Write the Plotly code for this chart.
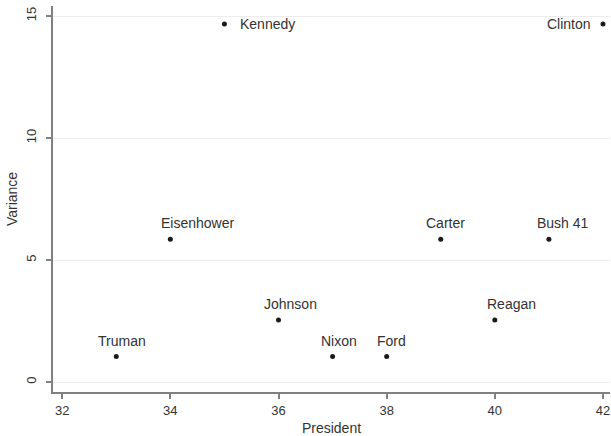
import plotly.graph_objects as go

presidents = ["Truman", "Eisenhower", "Kennedy", "Johnson", "Nixon", "Ford",
              "Carter", "Reagan", "Bush 41", "Clinton"]
president_num = [33, 34, 35, 36, 37, 38, 39, 40, 41, 42]
variance = [1.04, 5.85, 14.67, 2.54, 1.04, 1.04, 5.85, 2.54, 5.85, 14.67]

# label placement (style only): anchor and pixel shifts
label_anchor = ["center", "center", "left", "center", "center", "center",
                "center", "center", "center", "right"]
label_xshift = [6, 27, 14, 12, 6, 5, 5, 17, 14, -10]
label_yshift = [6, 6, -9, 6, 6, 6, 6, 6, 6, -9]

fig = go.Figure()
fig.add_trace(go.Scatter(
    x=president_num, y=variance, mode="markers",
    marker=dict(symbol="circle", size=5, color="#1a1a1a"),
    cliponaxis=False,
    showlegend=False, hoverinfo="skip"))

for name, xv, yv, anc, xs, ys in zip(presidents, president_num, variance,
                                      label_anchor, label_xshift, label_yshift):
    fig.add_annotation(x=xv, y=yv, text=name, showarrow=False,
                       xanchor=anc, yanchor="bottom" if anc == "center" else "middle",
                       xshift=xs, yshift=ys if anc == "center" else 0,
                       font=dict(family="Liberation Sans, Arial", size=14, color="#333333"))

axis_common = dict(showline=True, linecolor="#808080", linewidth=2,
                   ticks="outside", ticklen=5, tickwidth=1.5, tickcolor="#808080",
                   tickfont=dict(family="Liberation Sans, Arial", size=13, color="#333333"),
                   zeroline=False, automargin=False)

fig.update_layout(
    width=611, height=436,
    margin=dict(l=53, r=1, t=6, b=44),
    paper_bgcolor="white", plot_bgcolor="white",
    xaxis=dict(range=[31.83, 42.13], tickvals=[32, 34, 36, 38, 40, 42],
               showgrid=False,
               title=dict(text="President", standoff=7,
                          font=dict(family="Liberation Sans, Arial", size=14, color="#333333")),
               **axis_common),
    yaxis=dict(range=[-0.41, 15.41], tickvals=[0, 5, 10, 15], tickangle=-90,
               showgrid=True, gridcolor="#ececec", gridwidth=1,
               ticklabelstandoff=5,
               title=dict(text="Variance", standoff=3,
                          font=dict(family="Liberation Sans, Arial", size=14, color="#333333")),
               **axis_common),
)

fig.write_html("out.html", config={"displayModeBar": False},
               post_script="document.body.style.margin='0';document.body.style.overflow='hidden';")
